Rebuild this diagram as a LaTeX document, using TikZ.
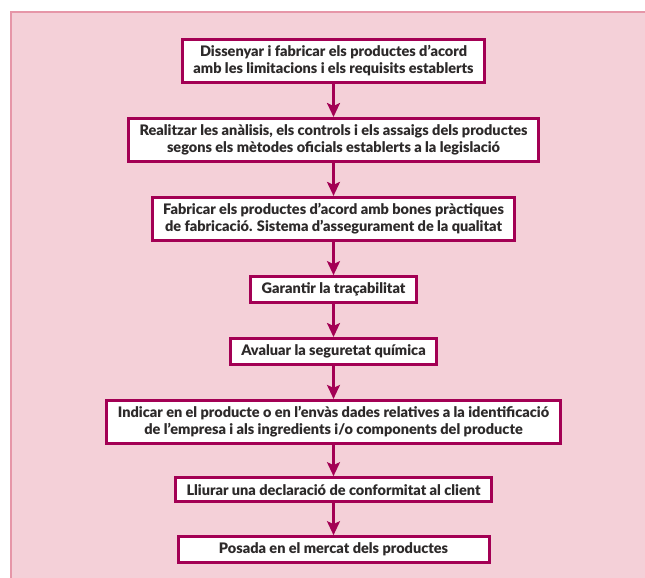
\documentclass[tikz,border=0pt]{standalone}
\usepackage{fontspec}
\setmainfont{Lato}[BoldFont={Lato Black}]
\usepackage{tikz}
\usetikzlibrary{positioning,arrows.meta}

\definecolor{vinous}{RGB}{163,0,84}
\definecolor{fonsrosa}{RGB}{244,208,216}
\definecolor{vorarosa}{RGB}{230,150,168}
\definecolor{textgris}{RGB}{45,42,42}

\begin{document}
\begin{tikzpicture}[x=1pt, y=-1pt,
    pas/.style={draw=vinous, line width=3pt, fill=white, align=center,
      inner xsep=11pt, inner ysep=6.2pt, minimum height=24pt,
      text=textgris, font=\bfseries\fontsize{14.5}{17}\selectfont},
    fletxa/.style={-{Stealth[length=14pt, width=13pt, inset=3pt]}, line width=2.5pt, draw=vinous},
    node distance=33pt]
  % background
  \useasboundingbox (0,0) rectangle (645,578);
  \fill[fonsrosa] (11,12) rectangle (645,578);
  \draw[vorarosa, line width=2pt] (11,578) -- (11,12) -- (645,12);

  % nodes
  \node[pas] (disseny) at (333.5,61) {Dissenyar i fabricar els productes d’acord\\amb les limitacions i els requisits establerts};
  \node[pas, below=of disseny] (analisi) {Realitzar les anàlisis, els controls i els assaigs dels productes\\segons els mètodes oficials establerts a la legislació};
  \node[pas, below=of analisi] (fabricacio) {Fabricar els productes d’acord amb bones pràctiques\\de fabricació. Sistema d’assegurament de la qualitat};
  \node[pas, below=of fabricacio] (traca) {Garantir la traçabilitat};
  \node[pas, below=of traca] (quimica) {Avaluar la seguretat química};
  \node[pas, below=of quimica] (etiqueta) {Indicar en el producte o en l’envàs dades relatives a la identificació\\de l’empresa i als ingredients i/o components del producte};
  \node[pas, below=31pt of etiqueta] (declaracio) {Lliurar una declaració de conformitat al client};
  \node[pas, below=32pt of declaracio, minimum width=311pt] (mercat) {Posada en el mercat dels productes};

  % edges
  \draw[fletxa] (disseny) -- (analisi);
  \draw[fletxa] (analisi) -- (fabricacio);
  \draw[fletxa] (fabricacio) -- (traca);
  \draw[fletxa] (traca) -- (quimica);
  \draw[fletxa] (quimica) -- (etiqueta);
  \draw[fletxa] (etiqueta) -- (declaracio);
  \draw[fletxa] (declaracio) -- (mercat);
\end{tikzpicture}
\end{document}
